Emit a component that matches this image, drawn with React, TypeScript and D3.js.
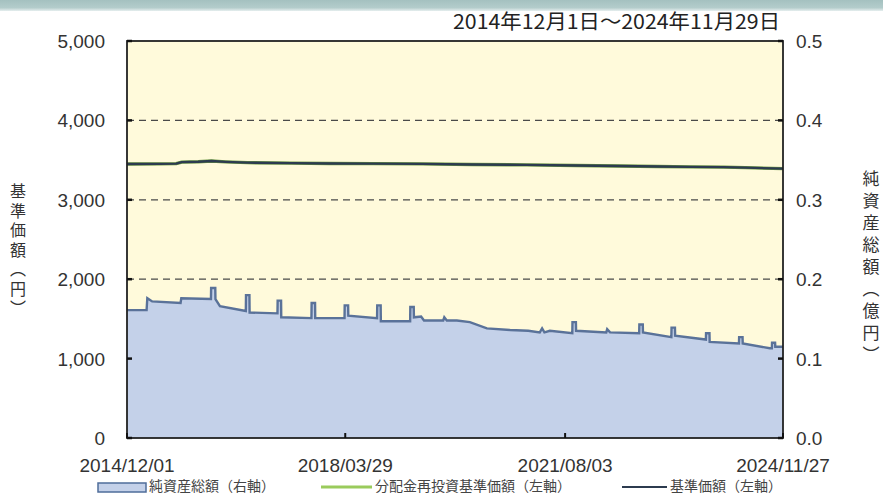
import * as d3 from "d3";

const periodLabel = "2014年12月1日～2024年11月29日";
const leftAxisTitle = "基準価額（円）";
const rightAxisTitle = "純資産総額（億円）";
const leftTicks = [0, 1000, 2000, 3000, 4000, 5000];
const rightTicks = [0, 0.1, 0.2, 0.3, 0.4, 0.5];
const dateTicks = ["2014-12-01", "2018-03-29", "2021-08-03", "2024-11-27"];
const legendLabels = ["純資産総額（右軸）", "分配金再投資基準価額（左軸）", "基準価額（左軸）"];

// net assets, 億円 (right axis)
const netAssets: [string, number][] = [
  ["2014-12-01", 0.161], ["2015-03-20", 0.161], ["2015-03-24", 0.176], ["2015-04-20", 0.172],
  ["2015-09-25", 0.17], ["2015-09-29", 0.176], ["2016-03-12", 0.175], ["2016-03-13", 0.189],
  ["2016-04-05", 0.189], ["2016-04-06", 0.175], ["2016-05-01", 0.166], ["2016-09-22", 0.16],
  ["2016-09-23", 0.18], ["2016-10-12", 0.18], ["2016-10-13", 0.158], ["2017-03-17", 0.157],
  ["2017-03-18", 0.173], ["2017-04-06", 0.173], ["2017-04-07", 0.152], ["2017-09-22", 0.151],
  ["2017-09-23", 0.17], ["2017-10-12", 0.17], ["2017-10-13", 0.151], ["2018-03-25", 0.151],
  ["2018-03-26", 0.167], ["2018-04-14", 0.167], ["2018-04-15", 0.154], ["2018-09-22", 0.151],
  ["2018-09-23", 0.167], ["2018-10-12", 0.167], ["2018-10-13", 0.147], ["2019-03-25", 0.147],
  ["2019-03-26", 0.165], ["2019-04-14", 0.165], ["2019-04-15", 0.152], ["2019-05-25", 0.153],
  ["2019-06-10", 0.148], ["2019-09-25", 0.148], ["2019-10-01", 0.152], ["2019-10-15", 0.148],
  ["2019-12-10", 0.148], ["2020-02-20", 0.146], ["2020-05-25", 0.138], ["2020-10-01", 0.136],
  ["2021-01-10", 0.135], ["2021-03-15", 0.133], ["2021-03-28", 0.138], ["2021-04-10", 0.133],
  ["2021-05-10", 0.135], ["2021-09-12", 0.132], ["2021-09-13", 0.146], ["2021-10-02", 0.146],
  ["2021-10-03", 0.135], ["2022-03-20", 0.133], ["2022-03-25", 0.137], ["2022-04-10", 0.133],
  ["2022-09-19", 0.132], ["2022-09-20", 0.143], ["2022-10-09", 0.143], ["2022-10-10", 0.133],
  ["2023-03-17", 0.127], ["2023-03-18", 0.139], ["2023-04-06", 0.139], ["2023-04-07", 0.129],
  ["2023-09-25", 0.124], ["2023-09-26", 0.132], ["2023-10-15", 0.132], ["2023-10-16", 0.121],
  ["2024-03-27", 0.119], ["2024-03-28", 0.127], ["2024-04-16", 0.127], ["2024-04-17", 0.119],
  ["2024-09-15", 0.113], ["2024-09-26", 0.113], ["2024-09-27", 0.12], ["2024-10-14", 0.12],
  ["2024-10-15", 0.115], ["2024-11-27", 0.115],
];

// base price, 円 (left axis)
const basePrice: [string, number][] = [
  ["2014-12-01", 3450], ["2015-06-01", 3452], ["2015-09-01", 3455], ["2015-10-01", 3475],
  ["2016-01-01", 3480], ["2016-03-15", 3488], ["2016-06-01", 3478], ["2016-10-01", 3468],
  ["2017-06-01", 3462], ["2018-01-01", 3458], ["2018-09-01", 3455], ["2019-06-01", 3452],
  ["2020-03-01", 3445], ["2021-01-01", 3440], ["2021-10-01", 3432], ["2022-06-01", 3425],
  ["2023-01-01", 3420], ["2023-07-01", 3415], ["2024-01-01", 3412], ["2024-05-01", 3405],
  ["2024-11-27", 3392],
];
// no distributions paid, so the reinvested price sits under the base price
const reinvestedPrice = basePrice;

const W = 883;
const H = 494;
const plot = { left: 127, right: 783, top: 41, bottom: 438 };
const numFont = "'Liberation Sans Narrow', 'Liberation Sans', Arial, sans-serif";
const jpFont = "'Noto Sans CJK JP', sans-serif";

const parse = d3.timeParse("%Y-%m-%d");

export default function App() {
  const x = d3
    .scaleTime()
    .domain([parse(dateTicks[0])!, parse(dateTicks[dateTicks.length - 1])!])
    .range([plot.left, plot.right]);
  const yL = d3.scaleLinear().domain([0, 5000]).range([plot.bottom, plot.top]);
  const yR = d3.scaleLinear().domain([0, 0.5]).range([plot.bottom, plot.top]);

  const area = d3
    .area<[string, number]>()
    .x((d) => x(parse(d[0])!))
    .y0(plot.bottom)
    .y1((d) => yR(d[1]));
  const assetLine = d3
    .line<[string, number]>()
    .x((d) => x(parse(d[0])!))
    .y((d) => yR(d[1]));
  const priceLine = d3
    .line<[string, number]>()
    .x((d) => x(parse(d[0])!))
    .y((d) => yL(d[1]));

  const fmtL = d3.format(",");
  const fmtR = d3.format(".1f");
  const fmtD = d3.timeFormat("%Y/%m/%d");

  return (
    <svg
      width={W}
      height={H}
      style={{ position: "absolute", left: 0, top: 0, background: "#fff" }}
    >
      <defs>
        <linearGradient id="band" x1="0" y1="0" x2="0" y2="1">
          <stop offset="0" stopColor="#a4c1c0" />
          <stop offset="0.7" stopColor="#b3cccb" />
          <stop offset="1" stopColor="#e6efef" />
        </linearGradient>
      </defs>
      <rect x={0} y={0} width={W} height={11} fill="url(#band)" />

      <text
        x={780}
        y={29}
        textAnchor="end"
        fontFamily={jpFont}
        fontSize={20}
        fill="#222"
        textLength={327}
        lengthAdjust="spacingAndGlyphs"
      >
        {periodLabel}
      </text>

      <rect
        x={plot.left}
        y={plot.top}
        width={plot.right - plot.left}
        height={plot.bottom - plot.top}
        fill="#fffadb"
      />

      {leftTicks
        .filter((t) => t > 0 && t < 5000)
        .map((t) => (
          <line
            key={`g${t}`}
            x1={plot.left}
            x2={plot.right}
            y1={yL(t)}
            y2={yL(t)}
            stroke="#4a4a4a"
            strokeWidth={1.3}
            strokeDasharray="7 5"
          />
        ))}

      <path d={area(netAssets) ?? ""} fill="#c4d1e9" stroke="none" />
      <path d={assetLine(netAssets) ?? ""} fill="none" stroke="#5a7299" strokeWidth={2.4} />

      <path d={priceLine(reinvestedPrice) ?? ""} fill="none" stroke="#6f9a45" strokeWidth={3.4} />
      <path d={priceLine(basePrice) ?? ""} fill="none" stroke="#2c3b4f" strokeWidth={2.4} />

      {/* frame */}
      <rect
        x={plot.left}
        y={plot.top}
        width={plot.right - plot.left}
        height={plot.bottom - plot.top}
        fill="none"
        stroke="#222"
        strokeWidth={1.8}
      />

      {/* left axis */}
      {leftTicks.map((t) => (
        <g key={`l${t}`}>
          <line x1={plot.left} x2={plot.left + 5} y1={yL(t)} y2={yL(t)} stroke="#111" strokeWidth={2.5} />
          <text x={105} y={yL(t) + 7} textAnchor="end" fontFamily={numFont} fontSize={19} fill="#333">
            {fmtL(t)}
          </text>
        </g>
      ))}

      {/* right axis */}
      {rightTicks.map((t) => (
        <g key={`r${t}`}>
          <line x1={plot.right - 5} x2={plot.right} y1={yR(t)} y2={yR(t)} stroke="#111" strokeWidth={2.5} />
          <text x={796} y={yR(t) + 7} fontFamily={numFont} fontSize={19} fill="#333">
            {fmtR(t)}
          </text>
        </g>
      ))}

      {/* bottom axis */}
      {dateTicks.map((s) => {
        const px = x(parse(s)!);
        return (
          <g key={s}>
            <line x1={px} x2={px} y1={plot.bottom} y2={plot.bottom - 5} stroke="#111" strokeWidth={2} />
            <text x={px} y={472} textAnchor="middle" fontFamily={numFont} fontSize={19} fill="#333">
              {fmtD(parse(s)!)}
            </text>
          </g>
        );
      })}

      <text
        x={18}
        y={183}
        fontFamily={jpFont}
        fontSize={16}
        fill="#333"
        style={{ writingMode: "vertical-rl", letterSpacing: "3.5px" }}
      >
        {leftAxisTitle}
      </text>
      <text
        x={871}
        y={170}
        fontFamily={jpFont}
        fontSize={17}
        fill="#333"
        style={{ writingMode: "vertical-rl", letterSpacing: "5px" }}
      >
        {rightAxisTitle}
      </text>

      {/* legend */}
      <rect x={98} y={483} width={48} height={9} fill="#c4d1e9" stroke="#4f6d9a" strokeWidth={1.5} />
      <text x={149} y={491} fontFamily={jpFont} fontSize={14} fill="#444">
        {legendLabels[0]}
      </text>
      <line x1={321} x2={372} y1={487} y2={487} stroke="#9acb5c" strokeWidth={3} />
      <text x={375} y={491} fontFamily={jpFont} fontSize={14} fill="#444">
        {legendLabels[1]}
      </text>
      <line x1={622} x2={667} y1={487} y2={487} stroke="#2c3b4f" strokeWidth={2} />
      <text x={670} y={491} fontFamily={jpFont} fontSize={14} fill="#444">
        {legendLabels[2]}
      </text>
    </svg>
  );
}
